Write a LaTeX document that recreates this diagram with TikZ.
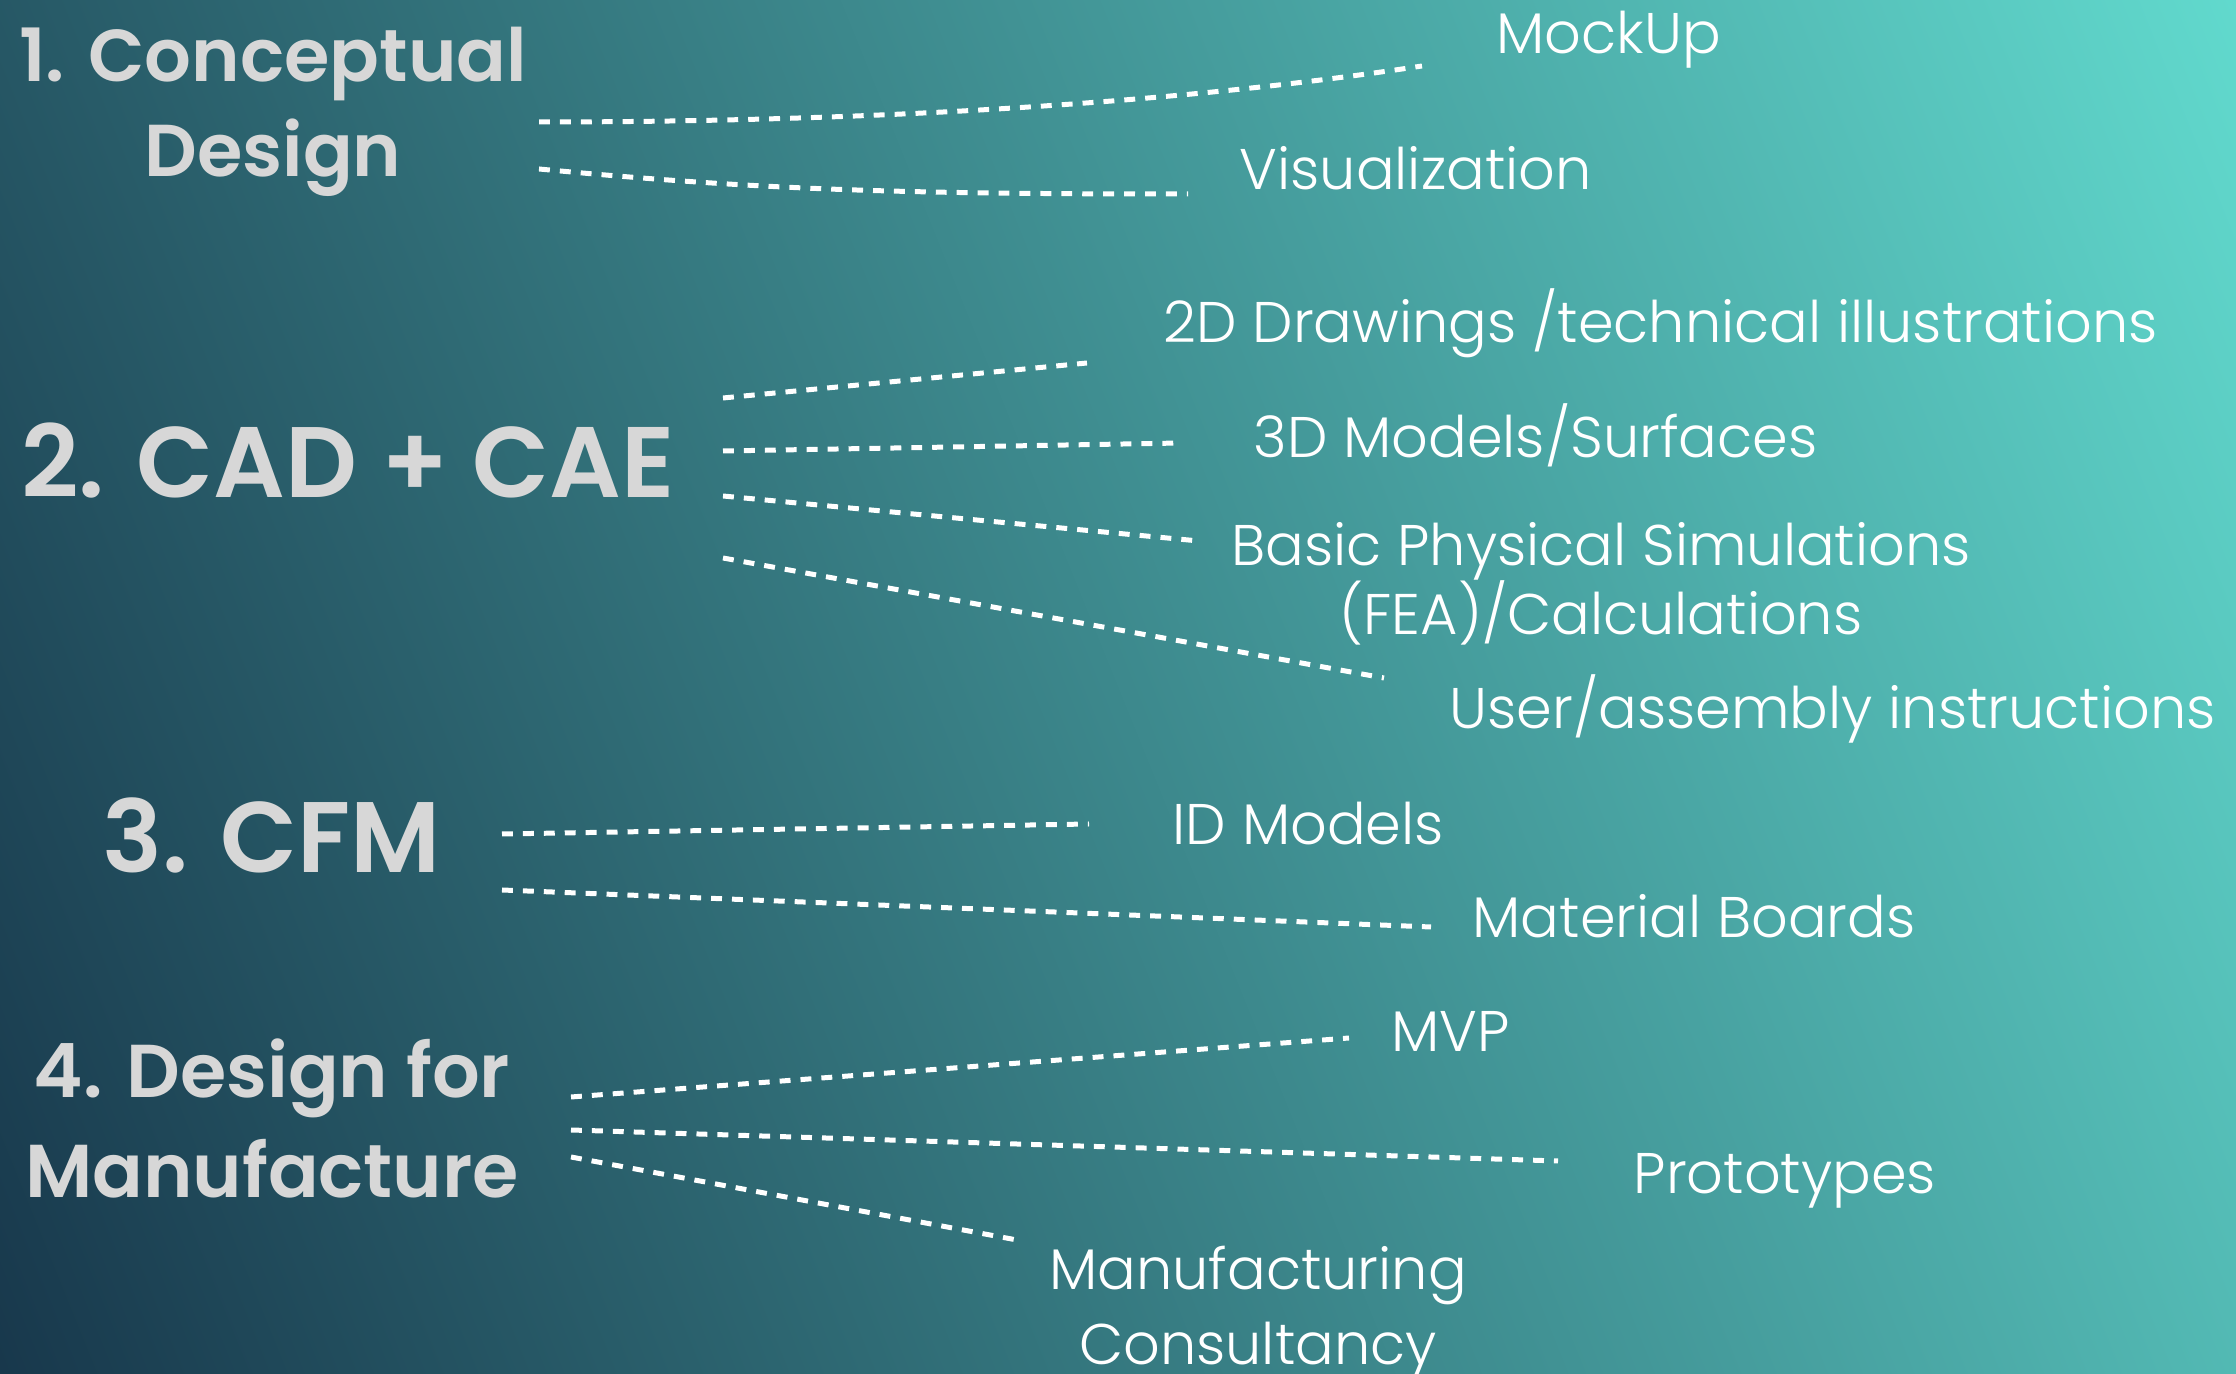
\documentclass[tikz,border=0pt]{standalone}
\usepackage{fontspec}
\IfFontExistsTF{Poppins Light}{\newfontfamily\lblfont{Poppins Light}}{\newfontfamily\lblfont{Poppins}}
\IfFontExistsTF{Poppins SemiBold}{\newfontfamily\hdfont{Poppins SemiBold}}{\newfontfamily\hdbase{Poppins}\def\hdfont{\hdbase\bfseries}}
\definecolor{bgA}{RGB}{24,56,76}
\definecolor{bgB}{RGB}{97,217,205}
\definecolor{headgrey}{RGB}{215,215,215}
\pgfdeclarehorizontalshading{bgshade}{100bp}{color(0bp)=(bgA); color(17.5bp)=(bgA); color(82.5bp)=(bgB); color(100bp)=(bgB)}
\newcommand\twolines[3][0pt]{\begin{tabular}[t]{@{}c@{}}#2\\[#1]#3\end{tabular}}
\tikzset{
  hd/.style={text=headgrey, inner sep=0pt, anchor=base},
  hdbig/.style={hd, font=\hdfont\fontsize{28.5pt}{34pt}\selectfont},
  lbl/.style={text=white, inner sep=0pt, anchor=base west, font=\lblfont\fontsize{16.3pt}{21.1pt}\selectfont},
  lblc/.style={lbl, anchor=base},
  dotline/.style={white, line width=1.42pt, dash pattern=on 3.1pt off 2.85pt},
}
\begin{document}
\begin{tikzpicture}[x=0.01cm, y=-0.01cm]
\useasboundingbox (0,0) rectangle (2236,1374);
\shade[shading=bgshade, shading angle=22] (0,0) rectangle (2236,1374);

% headings
\node[hd, font=\hdfont\fontsize{20.9pt}{27pt}\selectfont] (h1) at (273,82) {\twolines{1. Conceptual}{Design}};
\node[hdbig] (h2) at (348,498) {2. CAD + CAE};
\node[hdbig] (h3) at (272,873) {3. CFM};
\node[hd, font=\hdfont\fontsize{21.3pt}{28.2pt}\selectfont] (h4) at (272,1098) {\twolines{4. Design for}{Manufacture}};

% labels
\node[lbl] (mock) at (1496,54) {MockUp};
\node[lbl] (vis) at (1239,190) {Visualization};
\node[lbl] (d2) at (1163,343) {2D Drawings /technical illustrations};
\node[lbl] (d3) at (1253,458) {3D Models/Surfaces};
\node[lblc] (sim) at (1601,566) {\twolines[-2.2pt]{Basic Physical Simulations}{(FEA)/Calculations}};
\node[lbl] (usr) at (1449,729) {User/assembly instructions};
\node[lbl] (idm) at (1172,845) {ID Models};
\node[lbl] (mat) at (1472,938) {Material Boards};
\node[lbl] (mvp) at (1391,1052) {MVP};
\node[lbl] (proto) at (1633,1194) {Prototypes};
\node[lblc] (mfc) at (1258,1290) {\twolines{Manufacturing}{Consultancy}};

% connector end points
\coordinate (h1a) at (539,122);  \coordinate (mockE) at (1422,66);
\coordinate (h1b) at (539,169);  \coordinate (visE) at (1188,194);
\coordinate (h2a) at (723,398);  \coordinate (d2E) at (1087,363);
\coordinate (h2b) at (723,451);  \coordinate (d3E) at (1181,443);
\coordinate (h2c) at (723,496);  \coordinate (simE) at (1199,541);
\coordinate (h2d) at (723,558);  \coordinate (usrE) at (1384,678);
\coordinate (h3a) at (502,834);  \coordinate (idmE) at (1089,824);
\coordinate (h3b) at (502,890);  \coordinate (matE) at (1431,927);
\coordinate (h4a) at (571,1097); \coordinate (mvpE) at (1349,1038);
\coordinate (h4b) at (571,1130); \coordinate (protoE) at (1558,1161);
\coordinate (h4c) at (571,1157); \coordinate (mfcE) at (1017,1240);

% connectors
\draw[dotline] (h1a) .. controls (900,122) and (1200,100) .. (mockE);
\draw[dotline] (h1b) .. controls (760,190) and (900,194) .. (visE);
\draw[dotline] (h2a) -- (d2E);
\draw[dotline] (h2b) -- (d3E);
\draw[dotline] (h2c) -- (simE);
\draw[dotline] (h2d) -- (usrE);
\draw[dotline] (h3a) -- (idmE);
\draw[dotline] (h3b) -- (matE);
\draw[dotline] (h4a) -- (mvpE);
\draw[dotline] (h4b) -- (protoE);
\draw[dotline] (h4c) -- (mfcE);
\end{tikzpicture}
\end{document}
